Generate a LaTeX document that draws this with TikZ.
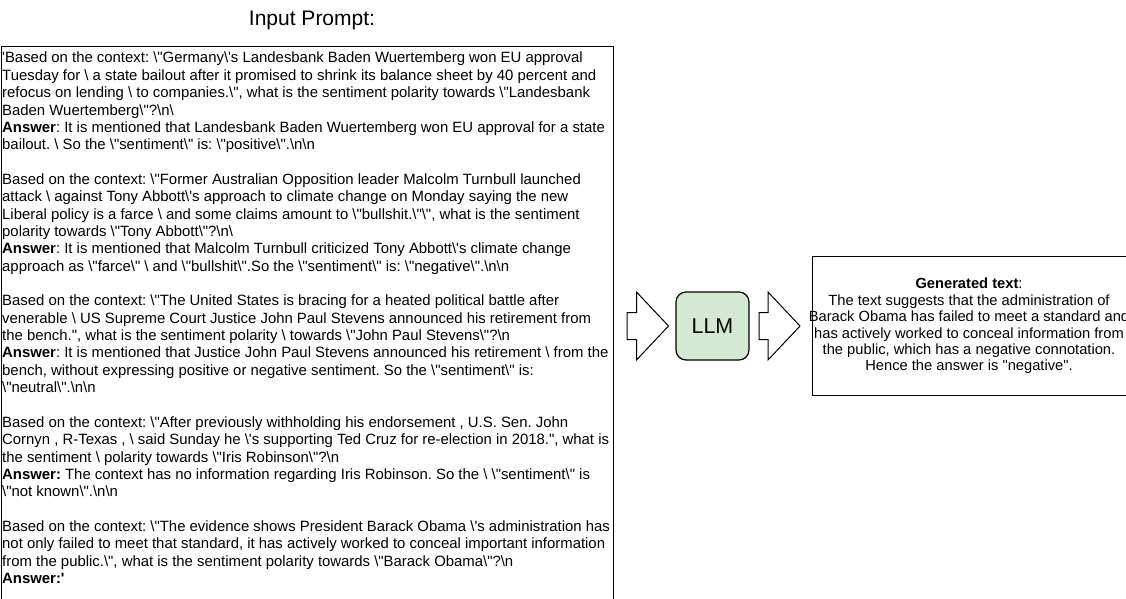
\documentclass[tikz,border=0pt]{standalone}
\usepackage{fontspec}
\newfontfamily\arialf{Liberation Sans}
\newcommand\myBs{\textbackslash}
\definecolor{llmgreen}{HTML}{D5E8D4}
\frenchspacing
\tikzset{
  ptext/.style={anchor=base west, inner sep=0pt, font=\arialf\fontsize{14.9}{17.4}\selectfont},
  gtext/.style={align=center, inner sep=0pt, font=\arialf\fontsize{14.7}{16.4}\selectfont},
  boxline/.style={draw=black, line width=1.2pt},
  blockarrow/.style={draw=black, line width=1pt, fill=white, line join=miter},
  llmbox/.style={boxline, fill=llmgreen, rounded corners=10pt, minimum width=73pt, minimum height=68pt, inner sep=0pt, font=\arialf\fontsize{21.4}{24}\selectfont},
  titletext/.style={inner sep=0pt, font=\arialf\fontsize{21}{24}\selectfont}
}
\newcommand\pline[2]{\node[ptext] (p#1) at (2,{63+17.35*(#1-1)}) {#2};}
\begin{document}
\begin{tikzpicture}[x=1pt,y=-1pt]
\useasboundingbox (0,0) rectangle (1126,599);
\fill[white] (0,0) rectangle (1126,599);
% title
\node[titletext] (title) at (312,20) {Input Prompt:};
% prompt box
\node[boxline, anchor=north west, minimum width=612pt, minimum height=580pt, inner sep=0pt] (promptbox) at (1,46) {};
\pline{1}{'Based on the context: \myBs{}"Germany\myBs{}'s Landesbank Baden Wuertemberg won EU approval}
\pline{2}{Tuesday for \myBs{} a state bailout after it promised to shrink its balance sheet by 40 percent and}
\pline{3}{refocus on lending \myBs{} to companies.\myBs{}", what is the sentiment polarity towards \myBs{}"Landesbank}
\pline{4}{Baden Wuertemberg\myBs{}"?\myBs{}n\myBs{}}
\pline{5}{\textbf{Answer}: It is mentioned that Landesbank Baden Wuertemberg won EU approval for a state}
\pline{6}{bailout. \myBs{} So the \myBs{}"sentiment\myBs{}" is: \myBs{}"positive\myBs{}".\myBs{}n\myBs{}n}
\pline{8}{Based on the context: \myBs{}"Former Australian Opposition leader Malcolm Turnbull launched}
\pline{9}{attack \myBs{} against Tony Abbott\myBs{}'s approach to climate change on Monday saying the new}
\pline{10}{Liberal policy is a farce \myBs{} and some claims amount to \myBs{}"bullshit.\myBs{}"\myBs{}", what is the sentiment}
\pline{11}{polarity towards \myBs{}"Tony Abbott\myBs{}"?\myBs{}n\myBs{}}
\pline{12}{\textbf{Answer}: It is mentioned that Malcolm Turnbull criticized Tony Abbott\myBs{}'s climate change}
\pline{13}{approach as \myBs{}"farce\myBs{}" \myBs{} and \myBs{}"bullshit\myBs{}".So the \myBs{}"sentiment\myBs{}" is: \myBs{}"negative\myBs{}".\myBs{}n\myBs{}n}
\pline{15}{Based on the context: \myBs{}"The United States is bracing for a heated political battle after}
\pline{16}{venerable \myBs{} US Supreme Court Justice John Paul Stevens announced his retirement from}
\pline{17}{the bench.", what is the sentiment polarity \myBs{} towards \myBs{}"John Paul Stevens\myBs{}"?\myBs{}n}
\pline{18}{\textbf{Answer}: It is mentioned that Justice John Paul Stevens announced his retirement \myBs{} from the}
\pline{19}{bench, without expressing positive or negative sentiment. So the \myBs{}"sentiment\myBs{}" is:}
\pline{20}{\myBs{}"neutral\myBs{}".\myBs{}n\myBs{}n}
\pline{22}{Based on the context: \myBs{}"After previously withholding his endorsement , U.S. Sen. John}
\pline{23}{Cornyn , R-Texas , \myBs{} said Sunday he \myBs{}'s supporting Ted Cruz for re-election in 2018.", what is}
\pline{24}{the sentiment \myBs{} polarity towards \myBs{}"Iris Robinson\myBs{}"?\myBs{}n}
\pline{25}{\textbf{Answer:} The context has no information regarding Iris Robinson. So the \myBs{} \myBs{}"sentiment\myBs{}" is}
\pline{26}{\myBs{}"not known\myBs{}".\myBs{}n\myBs{}n}
\pline{28}{Based on the context: \myBs{}"The evidence shows President Barack Obama \myBs{}'s administration has}
\pline{29}{not only failed to meet that standard, it has actively worked to conceal important information}
\pline{30}{from the public.\myBs{}", what is the sentiment polarity towards \myBs{}"Barack Obama\myBs{}"?\myBs{}n}
\pline{31}{\textbf{Answer:'}}
% LLM
\node[llmbox] (llm) at (712.5,326) {LLM};
% block arrows
\draw[blockarrow] (627,312.5) -- (636.5,312.5) -- (636.5,292) -- (668.5,326) -- (636.5,360) -- (636.5,339.5) -- (627,339.5) -- cycle;
\draw[blockarrow] (759,312.5) -- (768,312.5) -- (768,292) -- (800,326) -- (768,360) -- (768,339.5) -- (759,339.5) -- cycle;
% generated box
\node[boxline, anchor=north west, minimum width=315pt, minimum height=139pt, inner sep=0pt] (genbox) at (812,256) {};
\node[gtext] (gen) at (969,326) {\textbf{Generated text}:\\The text suggests that the administration of\\Barack Obama has failed to meet a standard and\\has actively worked to conceal information from\\the public, which has a negative connotation.\\Hence the answer is "negative".};
\end{tikzpicture}
\end{document}
